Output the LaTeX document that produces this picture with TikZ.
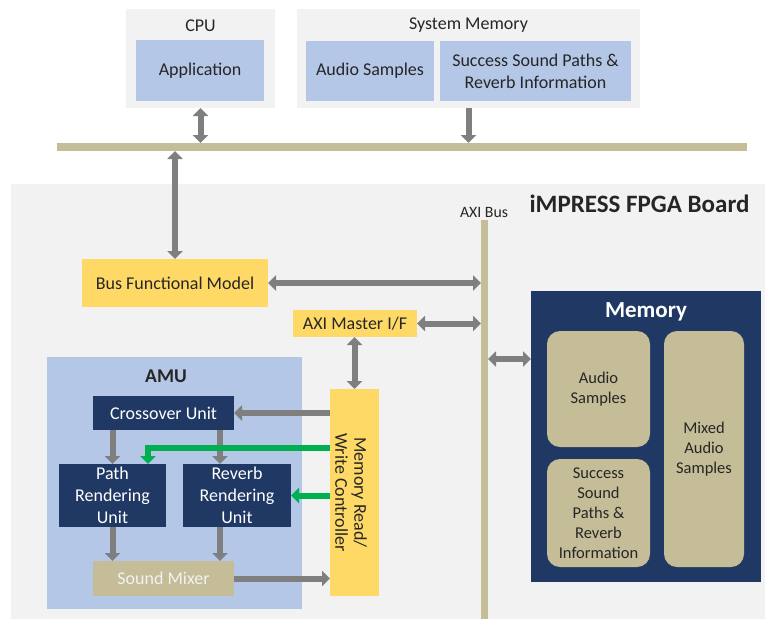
\documentclass[tikz,border=0pt]{standalone}
\usepackage{fontspec}
\setmainfont{Carlito}
\usetikzlibrary{arrows.meta}

\definecolor{panel}{HTML}{F2F2F2}
\definecolor{lblue}{HTML}{B4C7E7}
\definecolor{navy}{HTML}{1F3864}
\definecolor{tan}{HTML}{C4BD97}
\definecolor{gold}{HTML}{FFD966}
\definecolor{arrowgray}{HTML}{7F7F7F}
\definecolor{sigreen}{HTML}{00B050}
\definecolor{ink}{HTML}{262626}

\tikzset{
  blk/.style={inner sep=0pt, outer sep=0pt, align=center, text=ink,
    font=\fontsize{18}{22}\selectfont},
  greybox/.style={blk, fill=panel},
  bluebox/.style={blk, fill=lblue},
  goldbox/.style={blk, fill=gold},
  navybox/.style={blk, fill=navy, text=white},
  tanbox/.style={blk, fill=tan},
  membox/.style={blk, fill=tan, rounded corners=13pt,
    font=\fontsize{16.5}{20}\selectfont},
  busbar/.style={inner sep=0pt, outer sep=0pt, fill=tan},
  flow/.style={draw=arrowgray, line width=6pt,
    -{Triangle[width=15pt,length=8pt]}},
  dflow/.style={draw=arrowgray, line width=6pt,
    {Triangle[width=15pt,length=8pt]}-{Triangle[width=15pt,length=8pt]}},
  gflow/.style={draw=sigreen, line width=6pt,
    -{Triangle[width=15pt,length=8pt]}},
}

\begin{document}
\begin{tikzpicture}[x=1pt, y=-1pt]
\useasboundingbox (0,0) rectangle (765,619);
\fill[white] (0,0) rectangle (765,619);

% ---------- host side ----------
\node[greybox, minimum width=149pt, minimum height=99pt] (cpu) at (200.5,58.5) {};
\node[blk] (cpulbl) at (200.5,26) {CPU};
\node[bluebox, minimum width=128pt, minimum height=61pt] (app) at (200,70.5) {Application};

\node[greybox, minimum width=343pt, minimum height=99pt] (sysmem) at (468.5,58.5) {};
\node[blk] (sysmemlbl) at (468.5,25.5) {System Memory};
\node[bluebox, minimum width=128pt, minimum height=60pt] (saudio) at (370,71) {Audio Samples};
\node[bluebox, minimum width=191pt, minimum height=60pt] (spaths) at (535.5,71)
  {Success Sound Paths \&\\Reverb Information};

\node[busbar, minimum width=690pt, minimum height=8pt] (bar) at (402,147) {};

% ---------- FPGA board ----------
\node[greybox, minimum width=754pt, minimum height=435pt] (board) at (388,401.5) {};
\node[blk, font=\bfseries\fontsize{25}{30}\selectfont] (boardlbl) at (639.5,204) {iMPRESS FPGA Board};
\node[blk, font=\fontsize{15.8}{19}\selectfont] (axilbl) at (484,212) {AXI Bus};
\node[busbar, minimum width=7pt, minimum height=399pt] (axibar) at (484.5,419.5) {};

\node[goldbox, minimum width=186pt, minimum height=48pt] (bfm) at (175,283) {Bus Functional Model};
\node[goldbox, minimum width=124pt, minimum height=27pt] (axim) at (355,323.5) {AXI Master I/F};

% AMU
\node[bluebox, minimum width=255pt, minimum height=252pt] (amu) at (174.5,483) {};
\node[blk, font=\bfseries\fontsize{19.5}{23}\selectfont] (amulbl) at (166,376) {AMU};
\node[navybox, minimum width=141pt, minimum height=34pt] (cross) at (163.5,413) {Crossover Unit};
\node[navybox, minimum width=107pt, minimum height=63pt] (path) at (112.5,495.5) {Path\\Rendering\\Unit};
\node[navybox, minimum width=108pt, minimum height=63pt] (reverb) at (237,495.5) {Reverb\\Rendering\\Unit};
\node[tanbox, minimum width=141pt, minimum height=35pt, text=panel] (mixer) at (163.5,578.5) {Sound Mixer};

% memory read/write controller
\node[goldbox, minimum width=49pt, minimum height=207pt] (ctrl) at (354.5,492.5) {};
\node[blk, rotate=-90, font=\fontsize{18}{19}\selectfont] (ctrllbl) at (351,492.5)
  {Memory Read/\\Write Controller};

% on-board memory
\node[navybox, minimum width=230pt, minimum height=291pt] (mem) at (646,436.5) {};
\node[blk, text=white, font=\bfseries\fontsize{23}{27}\selectfont] (memlbl) at (646,312) {Memory};
\node[membox, minimum width=103pt, minimum height=116pt] (maudio) at (598.5,389) {Audio\\Samples};
\node[membox, minimum width=103pt, minimum height=108pt] (msucc) at (598.5,513)
  {Success\\Sound\\Paths \&\\Reverb\\Information};
\node[membox, minimum width=80pt, minimum height=236pt] (mmixed) at (704,449) {Mixed\\Audio\\Samples};

% ---------- connectors ----------
\draw[dflow] (cpu.south) -- (cpu.south |- bar.north);
\draw[flow] (sysmem.south) -- (sysmem.south |- bar.north);
\draw[dflow] (bfm.north |- bar.south) -- (bfm.north);
\draw[dflow] (bfm.east) -- (bfm.east -| axibar.west);
\draw[dflow] (axim.east) -- (axim.east -| axibar.west);
\draw[dflow] (axim.south -| ctrl.north) -- (ctrl.north);
\coordinate (memport) at (531,359);
\draw[dflow] (axibar.east |- memport) -- (mem.west |- memport);

\draw[flow] (ctrl.west |- cross.east) -- (cross.east);
\draw[flow] (path.north |- cross.south) -- (path.north);
\draw[flow] ([xshift=-17pt]reverb.north |- cross.south) -- ([xshift=-17pt]reverb.north);
\draw[flow] (path.south) -- (path.south |- mixer.north);
\draw[flow] ([xshift=-17pt]reverb.south) -- ([xshift=-17pt]reverb.south |- mixer.north);
\draw[flow] (mixer.east) -- (mixer.east -| ctrl.west);

\draw[gflow] ([yshift=44.5pt]ctrl.west) -| ([xshift=35.5pt]path.north);
\draw[gflow] (ctrl.west |- reverb.east) -- (reverb.east);
\end{tikzpicture}
\end{document}
